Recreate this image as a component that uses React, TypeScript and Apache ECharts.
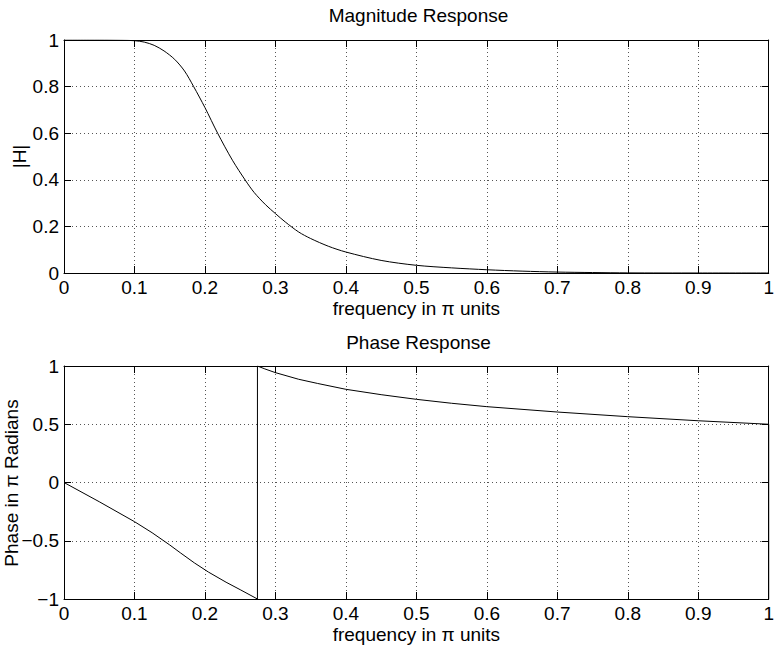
import React, { useEffect, useRef } from "react";
import * as echarts from "echarts";

const xTicks = [0, 0.1, 0.2, 0.3, 0.4, 0.5, 0.6, 0.7, 0.8, 0.9, 1];

const magFreq = [0, 0.05, 0.08, 0.1, 0.114, 0.128, 0.142, 0.157, 0.171, 0.184, 0.2, 0.218, 0.239, 0.258, 0.27, 0.286, 0.3, 0.314, 0.333, 0.35, 0.375, 0.4, 0.45, 0.5, 0.55, 0.6, 0.65, 0.7, 0.75, 0.8, 0.9, 1.0];
const magValues = [1, 1, 0.999, 0.997, 0.991, 0.977, 0.953, 0.917, 0.867, 0.8, 0.71, 0.6, 0.484, 0.395, 0.345, 0.293, 0.255, 0.219, 0.176, 0.148, 0.115, 0.09, 0.054, 0.033, 0.022, 0.014, 0.008, 0.004, 0.002, 0.0005, 0, 0];

const phaseFreq = [0, 0.05, 0.1, 0.125, 0.15, 0.165, 0.185, 0.205, 0.23, 0.25, 0.2745, 0.2745, 0.285, 0.3, 0.333, 0.36, 0.4, 0.45, 0.5, 0.55, 0.6, 0.7, 0.8, 0.9, 1.0, 1.0];
const phaseValues = [0, -0.165, -0.336, -0.431, -0.536, -0.603, -0.69, -0.769, -0.856, -0.92, -1.0, 1.0, 0.975, 0.943, 0.886, 0.85, 0.8, 0.754, 0.714, 0.68, 0.651, 0.605, 0.565, 0.53, 0.5, -1.0];

const magTitle = "Magnitude Response";
const phaseTitle = "Phase Response";
const xName = "frequency in \u03c0 units";
const magYName = "|H|";
const phaseYName = "Phase in \u03c0 Radians";

const FONT = "Liberation Sans";
const FS = 19;

function fmt(v: number) {
  return String(+v.toFixed(2)).replace("-", "\u2212");
}

function mainX(gridIndex: number) {
  return {
    type: "value",
    gridIndex,
    min: 0,
    max: 1,
    interval: 0.1,
    position: "bottom",
    name: xName,
    nameLocation: "middle",
    nameGap: 26,
    nameTextStyle: { fontFamily: FONT, fontSize: FS, color: "#000" },
    axisLine: { onZero: false, lineStyle: { color: "#000", width: 1 } },
    axisTick: { inside: true, length: 7, lineStyle: { color: "#000" } },
    axisLabel: { fontFamily: FONT, fontSize: FS, color: "#000", margin: 5, formatter: fmt },
    splitLine: { show: true, lineStyle: { color: "#555", type: [1, 3], width: 1 } },
  };
}
function topX(gridIndex: number) {
  return {
    type: "value",
    gridIndex,
    min: 0,
    max: 1,
    interval: 0.1,
    position: "top",
    axisLine: { onZero: false, lineStyle: { color: "#000", width: 1 } },
    axisTick: { inside: true, length: 7, lineStyle: { color: "#000" } },
    axisLabel: { show: false },
    splitLine: { show: false },
  };
}
function leftY(gridIndex: number, min: number, max: number, interval: number) {
  return {
    type: "value",
    gridIndex,
    min,
    max,
    interval,
    position: "left",
    axisLine: { show: true, onZero: false, lineStyle: { color: "#000", width: 1 } },
    axisTick: { show: true, inside: true, length: 7, lineStyle: { color: "#000" } },
    axisLabel: { fontFamily: FONT, fontSize: FS, color: "#000", margin: 5, formatter: fmt },
    splitLine: { show: true, lineStyle: { color: "#555", type: [1, 3], width: 1 } },
  };
}
function rightY(gridIndex: number, min: number, max: number, interval: number) {
  return {
    type: "value",
    gridIndex,
    min,
    max,
    interval,
    position: "right",
    axisLine: { show: true, onZero: false, lineStyle: { color: "#000", width: 1 } },
    axisTick: { show: true, inside: true, length: 7, lineStyle: { color: "#000" } },
    axisLabel: { show: false },
    splitLine: { show: false },
  };
}

export default function App() {
  const ref = useRef<HTMLDivElement>(null);
  useEffect(() => {
    if (!ref.current) return;
    const chart = echarts.init(ref.current, undefined, { renderer: "svg" });
    const magData = magFreq.map((f, i) => [f, magValues[i]]);
    const phaseData = phaseFreq.map((f, i) => [f, phaseValues[i]]);
    chart.setOption({
      animation: false,
      backgroundColor: "#fff",
      title: [
        { text: magTitle, left: 418.5, top: 6, padding: 0, textAlign: "center", textStyle: { fontFamily: FONT, fontSize: FS, fontWeight: "normal", color: "#000" } },
        { text: phaseTitle, left: 418.5, top: 333, padding: 0, textAlign: "center", textStyle: { fontFamily: FONT, fontSize: FS, fontWeight: "normal", color: "#000" } },
      ],
      grid: [
        { left: 64, top: 40, width: 709, height: 233 },
        { left: 64, top: 366, width: 709, height: 233 },
      ],
      xAxis: [mainX(0), topX(0), mainX(1), topX(1)],
      yAxis: [leftY(0, 0, 1, 0.2), rightY(0, 0, 1, 0.2), leftY(1, -1, 1, 0.5), rightY(1, -1, 1, 0.5)],
      series: [
        { type: "line", xAxisIndex: 0, yAxisIndex: 0, data: magData, smooth: 0.3, showSymbol: false, symbol: "none", lineStyle: { color: "#000", width: 1 } },
        { type: "line", xAxisIndex: 2, yAxisIndex: 2, data: phaseData, showSymbol: false, symbol: "none", lineStyle: { color: "#000", width: 1 } },
      ],
      graphic: [
        { type: "text", x: 19, y: 156.5, rotation: Math.PI / 2, style: { text: magYName, fontFamily: FONT, fontSize: FS, fill: "#000", align: "center", verticalAlign: "middle" } },
        { type: "text", x: 11, y: 483, rotation: Math.PI / 2, style: { text: phaseYName, fontFamily: FONT, fontSize: FS, fill: "#000", align: "center", verticalAlign: "middle" } },
      ],
    });
    return () => chart.dispose();
  }, []);
  return <div ref={ref} style={{ position: "absolute", left: 0, top: 0, width: 777, height: 646 }} />;
}
